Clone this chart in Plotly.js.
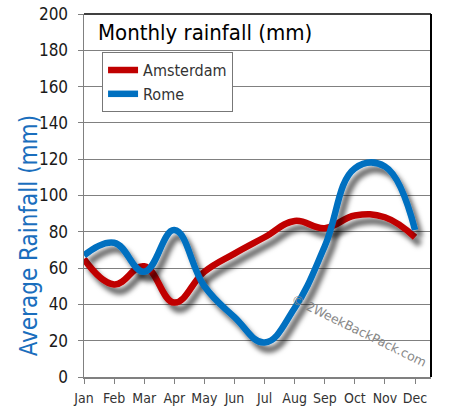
<!DOCTYPE html>
<html>
<head>
<meta charset="utf-8">
<script src="https://cdn.plot.ly/plotly-3.0.1.min.js"></script>
<style>
  html, body { margin: 0; padding: 0; background: #fff; }
  #chart { width: 451px; height: 418px; }
  .scatterlayer .js-line { filter: url(#lineShadow); }
</style>
</head>
<body>
<svg width="0" height="0" style="position:absolute">
  <defs>
    <filter id="lineShadow" x="-20%" y="-20%" width="140%" height="160%">
      <feDropShadow dx="5" dy="7" stdDeviation="2.5" flood-color="#000" flood-opacity="0.6"/>
    </filter>
  </defs>
</svg>
<div id="chart"></div>
<script>
const months = ["Jan","Feb","Mar","Apr","May","Jun","Jul","Aug","Sep","Oct","Nov","Dec"];
const monthIndex = [0,1,2,3,4,5,6,7,8,9,10,11];
const amsterdam = [65, 51, 61, 41, 58, 68, 77, 86, 82, 89, 88, 77];
const rome = [67, 74, 58, 81, 50, 33, 19, 38, 72, 115, 116, 81];
const yTicks = [0,20,40,60,80,100,120,140,160,180,200];

const FONT = '"Liberation Sans Narrow", "DejaVu Sans Condensed", "Arial Narrow", sans-serif';

const traces = [
  {
    name: "Amsterdam", x: monthIndex, y: amsterdam, type: "scatter", mode: "lines",
    line: { color: "#c00000", width: 6.5, shape: "spline", smoothing: 1.2 }
  },
  {
    name: "Rome", x: monthIndex, y: rome, type: "scatter", mode: "lines",
    line: { color: "#0070c0", width: 6.5, shape: "spline", smoothing: 1.2 }
  }
];

const layout = {
  width: 451, height: 418,
  margin: { l: 84, r: 20, t: 14, b: 41, pad: 0 },
  paper_bgcolor: "#ffffff",
  plot_bgcolor: "#ffffff",
  font: { family: FONT, color: "#1a1a1a", size: 16 },
  showlegend: true,
  legend: {
    x: 0.052, y: 0.895, xanchor: "left", yanchor: "top",
    bgcolor: "#ffffff", bordercolor: "#777777", borderwidth: 1,
    font: { family: FONT, size: 16, color: "#333333" },
    tracegroupgap: 0, itemwidth: 30
  },
  xaxis: {
    range: [0, 11.53],
    tickmode: "array", tickvals: monthIndex, ticktext: months,
    showgrid: false, zeroline: false,
    showline: true, linecolor: "#808080", linewidth: 1.5,
    ticks: "outside", ticklen: 5, tickcolor: "#808080", tickwidth: 1,
    tickfont: { family: FONT, size: 14, color: "#333333" },
    ticklabelstandoff: 3,
    fixedrange: true
  },
  yaxis: {
    range: [0, 200],
    tickmode: "array", tickvals: yTicks,
    showgrid: true, gridcolor: "#808080", gridwidth: 1,
    zeroline: false,
    showline: true, linecolor: "#808080", linewidth: 1.5,
    ticks: "outside", ticklen: 5, tickcolor: "#808080", tickwidth: 1,
    tickfont: { family: FONT, size: 17, color: "#1a1a1a" },
    ticklabelstandoff: 6,
    fixedrange: true
  },
  shapes: [
    { type: "line", xref: "paper", yref: "paper", x0: 0, x1: 1, y0: 1, y1: 1, line: { color: "#000", width: 1.5 } },
    { type: "line", xref: "paper", yref: "paper", x0: 1, x1: 1, y0: 0, y1: 1, line: { color: "#000", width: 2 } }
  ],
  annotations: [
    {
      text: "Monthly rainfall (mm)", xref: "paper", yref: "paper",
      x: 0.035, y: 0.948, xanchor: "left", yanchor: "middle", showarrow: false,
      font: { family: FONT, size: 22, color: "#000000" }
    },
    {
      text: "Average Rainfall (mm)", xref: "paper", yref: "paper",
      x: -0.156, y: 0.39, xanchor: "center", yanchor: "middle", showarrow: false,
      textangle: -90,
      font: { family: FONT, size: 24, color: "#1a6ebd" }
    },
    {
      text: "© 2WeekBackPack.com", xref: "paper", yref: "paper",
      x: 0.793, y: 0.129, xanchor: "center", yanchor: "middle", showarrow: false,
      textangle: 26,
      font: { family: "DejaVu Sans, sans-serif", size: 12.5, color: "#888888" }
    }
  ]
};

Plotly.newPlot("chart", traces, layout, { displayModeBar: false, staticPlot: true });
</script>
</body>
</html>
